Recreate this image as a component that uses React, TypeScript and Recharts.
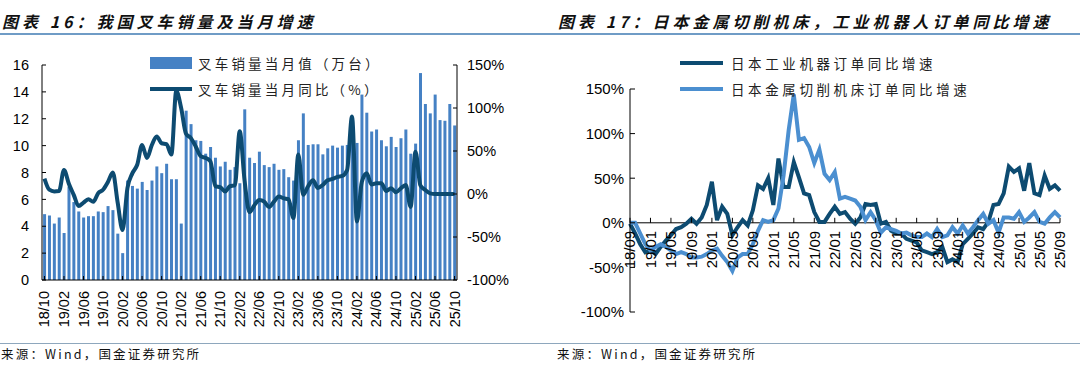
import React from 'react';
import { ComposedChart, LineChart, Bar, Line, XAxis, YAxis, ReferenceLine } from 'recharts';

// month labels like "18/10"
function buildMonths(year: number, month: number, count: number): string[] {
    const out: string[] = [];
    let y = year;
    let m = month;
    for (let i = 0; i < count; i++) {
        out.push(`${String(y % 100).padStart(2, '0')}/${String(m).padStart(2, '0')}`);
        m += 1;
        if (m > 12) {
            m = 1;
            y += 1;
        }
    }
    return out;
}

const forkliftMonths = buildMonths(2018, 10, 85);
const orderMonths = buildMonths(2018, 9, 85);

// 叉车销量当月值（万台）
const forkliftSales = [
    4.9, 4.8, 4.2, 4.65, 3.5, 6.95, 5.8, 5.1, 4.65, 4.75, 4.75, 5.1, 5.05, 5.5, 5.2, 3.45, 2.0,
    7.4, 7.0, 6.8, 7.3, 6.7, 7.4, 8.45, 7.95, 8.65, 7.5, 7.5, 4.2, 12.6, 11.6, 10.4, 10.35, 9.4,
    9.9, 9.1, 8.45, 8.8, 8.2, 8.4, 7.2, 12.7, 9.1, 8.7, 9.55, 8.55, 8.4, 8.65, 8.2, 8.25, 7.65,
    7.4, 10.4, 12.4, 10.05, 10.1, 10.1, 9.35, 9.8, 10.0, 9.85, 10.0, 10.05, 10.5, 10.2, 13.8,
    12.45, 11.05, 11.2, 10.4, 9.95, 10.65, 9.9, 10.55, 11.2, 9.4, 10.15, 15.4, 13.1, 12.4, 13.8,
    11.9, 11.85, 13.1, 11.5,
];

// 叉车销量当月同比（%）
const forkliftYoY = [
    18, 5, 3, 3.5, 28, 12, -1, -14, -10, -6, -9, 1, 5, 14, 25, -10, -42, 7, 24, 34, 57, 42, 57,
    67, 59, 58, 46, 120, 100, 70, 65, 55, 44, 42, 38, 9, 8, 3, 9, 10, 73, 15, -21, -13, -7, -9,
    -15, -9, -3, -5, -6, -28, 46, -1, 9, 16, 7, 10.5, 16, 17.5, 20, 21, 28, 90, -32, 14, 24, 11,
    12.5, 12.5, 3.5, 6.6, 2, 6.6, 10.5, -15, 49, 10, 4.7, 0.8, 0, 0, 0, 0, 0,
];

// 日本工业机器订单同比增速 (%)
const robotOrdersYoY = [
    -1, -12, -24, -33, -31, -35, -27, -20, -14, -7, -5, -1, 4.5, -1, 6, 20, 46, 3, 18, 10, -14,
    -5, 3, -3, 14, 42, 38, 50, 20, 72, 40, 40, 68, 51, 33, 31, 12, 1, 1, 10, 18, 10, 12, 4.5, -1,
    6, 21, 20, 21, -1, 1, -9, -12, -12, -18, -20, -22, -31, -33, -35, -33, -27, -44, -41, -44,
    -24, -18, -12, -5, -7, 1, 20, 21, 33, 63, 57, 61, 36, 67, 33, 31, 53, 38, 42, 36,
];

// 日本金属切削机床订单同比增速 (%)
const machineToolOrdersYoY = [
    0, 0, -12, -24, -31, -27, -24, -27, -31, -35, -33, -35, -39, -39, -38, -35, -31, -29, -37,
    -44, -54, -39, -35, -35, -24, -9, 3, 1, 3, 16, 53, 104, 144, 93, 95, 85, 67, 82, 55, 48, 57,
    27, 29, 27, 25, 18, 3, 12, 3, -11, -5, -7, -9, -12, -11, -14, -16, -16, -12, -16, -7, -16,
    -14, -5, -12, -3, -12, -5, 3, 10, -1, 3, -11, 6, 6, 4.5, 12, 1, 6, 12, 1, -1, 6, 12, 6,
];

const leftTicks = [0, 2, 4, 6, 8, 10, 12, 14, 16];
const pctTicks = [-100, -50, 0, 50, 100, 150];

const BAR_BLUE = '#4581c4';
const DARK_BLUE = '#0d4b71';
const LIGHT_BLUE = '#4b8fd0';
const AXIS_FONT = '"Liberation Sans", Arial, sans-serif';
const CJK_FONT = '"Noto Sans CJK SC", "Noto Sans", sans-serif';

const forkliftData = forkliftMonths.map((month, i) => ({
    month,
    sales: forkliftSales[i],
    yoy: forkliftYoY[i],
}));

const orderData = orderMonths.map((month, i) => ({
    month,
    robot: robotOrdersYoY[i],
    tool: machineToolOrdersYoY[i],
}));

// right chart plot geometry (x axis labels sit on the 0% line)
const R_TOP = 89;
const R_BOTTOM = 28;
const R_HEIGHT = 340;
const R_PLOT_H = R_HEIGHT - R_TOP - R_BOTTOM;
const ZERO_SHIFT = (R_PLOT_H * (0 - pctTicks[0])) / (pctTicks[pctTicks.length - 1] - pctTicks[0]);

const pct = (v: number) => `${v}%`;

const RotatedTick = (props: any) => {
    const { x, y, payload } = props;
    return (
        <text
            x={x}
            y={y}
            transform={`rotate(-90 ${x} ${y})`}
            textAnchor="end"
            dominantBaseline="central"
            fill="#000"
            fontSize={14.5}
            fontFamily={AXIS_FONT}
        >
            {payload.value}
        </text>
    );
};

const ZeroLineTick = (props: any) => {
    const { x, y, payload } = props;
    const zy = y - ZERO_SHIFT;
    const ty = zy + 8;
    return (
        <g>
            <line x1={x} x2={x} y1={zy} y2={zy - 5} stroke="#000" strokeWidth={1} />
            <text
                x={x}
                y={ty}
                transform={`rotate(-90 ${x} ${ty})`}
                textAnchor="end"
                dominantBaseline="central"
                fill="#000"
                fontSize={15}
                fontFamily={AXIS_FONT}
            >
                {payload.value}
            </text>
        </g>
    );
};

const titleStyle: React.CSSProperties = {
    position: 'absolute',
    top: 11,
    fontFamily: CJK_FONT,
    fontSize: 16,
    fontWeight: 'bold',
    fontStyle: 'italic',
    letterSpacing: 4,
    lineHeight: '20px',
    color: '#111',
    whiteSpace: 'nowrap',
};

const legendText: React.CSSProperties = {
    position: 'absolute',
    fontFamily: CJK_FONT,
    fontSize: 13.5,
    letterSpacing: 3.2,
    lineHeight: '16px',
    color: '#222',
    whiteSpace: 'nowrap',
};

const sourceStyle: React.CSSProperties = {
    position: 'absolute',
    top: 346,
    fontFamily: CJK_FONT,
    fontSize: 12.5,
    letterSpacing: 2.2,
    lineHeight: '16px',
    color: '#111',
    whiteSpace: 'nowrap',
};

export default function App() {
    return (
        <div style={{ position: 'absolute', left: 0, top: 0, width: 1080, height: 371, background: '#fff', overflow: 'hidden' }}>
            <div style={{ ...titleStyle, left: 2 }}>图表 16：我国叉车销量及当月增速</div>
            <div style={{ ...titleStyle, left: 558 }}>图表 17：日本金属切削机床，工业机器人订单同比增速</div>
            <div style={{ position: 'absolute', left: 0, top: 33, width: 1080, height: 1.5, background: '#6f9cc6' }} />
            <div style={{ position: 'absolute', left: 0, top: 342.5, width: 1080, height: 1.5, background: '#8ea7bd' }} />
            <div style={{ ...sourceStyle, left: 1 }}>来源：Wind，国金证券研究所</div>
            <div style={{ ...sourceStyle, left: 557 }}>来源：Wind，国金证券研究所</div>

            <div style={{ position: 'absolute', left: 0, top: 0 }}>
                <ComposedChart
                    width={540}
                    height={340}
                    data={forkliftData}
                    margin={{ top: 65, right: 23, bottom: 0, left: 0 }}
                    barCategoryGap="22%"
                >
                    <XAxis
                        dataKey="month"
                        interval={3}
                        height={60}
                        stroke="#000"
                        tickSize={-4}
                        tickMargin={15}
                        tick={(p: any) => <RotatedTick {...p} />}
                    />
                    <YAxis
                        yAxisId="left"
                        domain={[0, 16]}
                        ticks={leftTicks}
                        width={42}
                        stroke="#000"
                        tickSize={-4}
                        tickMargin={17}
                        tick={{ fill: '#000', fontSize: 14.5, fontFamily: AXIS_FONT }}
                    />
                    <YAxis
                        yAxisId="right"
                        orientation="right"
                        domain={[-100, 150]}
                        ticks={pctTicks}
                        tickFormatter={pct}
                        width={60}
                        stroke="#000"
                        tickSize={-4}
                        tickMargin={14}
                        tick={{ fill: '#000', fontSize: 14.5, fontFamily: AXIS_FONT }}
                    />
                    <Bar yAxisId="left" dataKey="sales" fill={BAR_BLUE} isAnimationActive={false} />
                    <Line
                        yAxisId="right"
                        dataKey="yoy"
                        type="monotone"
                        stroke={DARK_BLUE}
                        strokeWidth={4}
                        dot={false}
                        activeDot={false}
                        isAnimationActive={false}
                    />
                </ComposedChart>
            </div>

            <div style={{ position: 'absolute', left: 150, top: 57, width: 42, height: 12, background: BAR_BLUE }} />
            <div style={{ ...legendText, left: 198, top: 55 }}>叉车销量当月值（万台）</div>
            <div style={{ position: 'absolute', left: 150, top: 87, width: 42, height: 4, background: DARK_BLUE }} />
            <div style={{ ...legendText, left: 198, top: 81 }}>叉车销量当月同比（%）</div>

            <div style={{ position: 'absolute', left: 540, top: 0 }}>
                <LineChart
                    width={540}
                    height={R_HEIGHT}
                    data={orderData}
                    margin={{ top: R_TOP, right: 20, bottom: 0, left: 0 }}
                >
                    <XAxis
                        dataKey="month"
                        interval={3}
                        height={R_BOTTOM}
                        axisLine={false}
                        tickLine={false}
                        tickSize={0}
                        tickMargin={0}
                        tick={(p: any) => <ZeroLineTick {...p} />}
                    />
                    <YAxis
                        domain={[-100, 150]}
                        ticks={pctTicks}
                        tickFormatter={pct}
                        width={90}
                        stroke="#000"
                        tickSize={-5}
                        tickMargin={11}
                        tick={{ fill: '#000', fontSize: 15, fontFamily: AXIS_FONT }}
                    />
                    <ReferenceLine y={0} stroke="#000" strokeWidth={1} />
                    <Line
                        dataKey="robot"
                        type="linear"
                        stroke={DARK_BLUE}
                        strokeWidth={4}
                        dot={false}
                        activeDot={false}
                        isAnimationActive={false}
                    />
                    <Line
                        dataKey="tool"
                        type="linear"
                        stroke={LIGHT_BLUE}
                        strokeWidth={4}
                        dot={false}
                        activeDot={false}
                        isAnimationActive={false}
                    />
                </LineChart>
            </div>

            <div style={{ position: 'absolute', left: 680, top: 61, width: 43, height: 4, background: DARK_BLUE }} />
            <div style={{ ...legendText, left: 731, top: 55, letterSpacing: 3.6 }}>日本工业机器订单同比增速</div>
            <div style={{ position: 'absolute', left: 680, top: 87, width: 43, height: 4, background: LIGHT_BLUE }} />
            <div style={{ ...legendText, left: 731, top: 81, letterSpacing: 3.6 }}>日本金属切削机床订单同比增速</div>
        </div>
    );
}
